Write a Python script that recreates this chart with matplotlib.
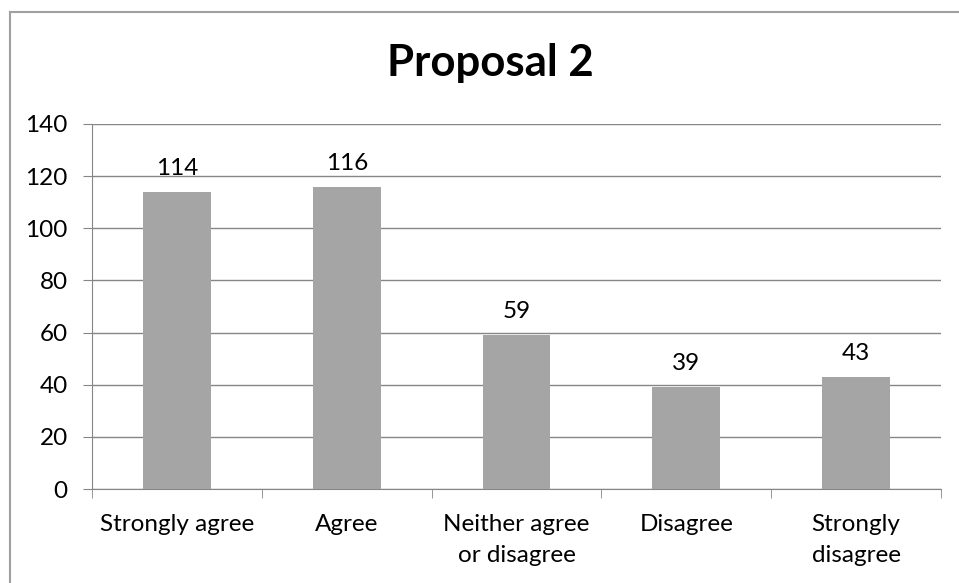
import matplotlib.pyplot as plt
from matplotlib.lines import Line2D
import numpy as np

categories = ["Strongly agree", "Agree", "Neither agree\nor disagree", "Disagree", "Strongly\ndisagree"]
values = [114, 116, 59, 39, 43]
yticks = [0, 20, 40, 60, 80, 100, 120, 140]

plt.rcParams['font.family'] = ['Lato', 'DejaVu Sans']

fig = plt.figure(figsize=(9.59, 5.83), dpi=100)
ax = fig.add_axes([92/959, 1-489/583, (941-92)/959, (489-124)/583])

x = np.arange(len(categories))
ax.bar(x, values, width=0.4, color="#A5A5A5", zorder=3)
for xi, v in zip(x, values):
    ax.text(xi, v + 5, str(v), ha="center", va="bottom", fontsize=17.5, color="#000000")

ax.set_xlim(-0.5, len(categories) - 0.5)
ax.set_ylim(0, 140)
ax.set_yticks(yticks)
ax.yaxis.grid(True, color="#868686", linewidth=1, zorder=0)
ax.tick_params(axis="y", length=6.5, color="#868686", labelsize=17.5, pad=11)

# category labels centred, ticks between categories
ax.set_xticks(x)
ax.set_xticklabels(categories, fontsize=17.5, linespacing=1.6)
ax.tick_params(axis="x", length=0, pad=18)
ax.set_xticks(np.arange(len(categories) + 1) - 0.5, minor=True)
ax.tick_params(axis="x", which="minor", length=6.5, color="#868686")

for s in ["top", "right"]:
    ax.spines[s].set_visible(False)
ax.spines["left"].set_color("#868686")
ax.spines["bottom"].set_color("#868686")

fig.text(490/959, 1-63/583, "Proposal 2", ha="center", va="center", fontsize=31.5, fontweight="bold")

# outer chart border (only left and top visible)
bx, by = 10/959, 1-12/583
fig.add_artist(Line2D([bx, bx], [0, by], transform=fig.transFigure, color="#A0A0A0", linewidth=1.5))
fig.add_artist(Line2D([bx, 1], [by, by], transform=fig.transFigure, color="#A0A0A0", linewidth=1.5))

fig.savefig("out.png", dpi=100)
